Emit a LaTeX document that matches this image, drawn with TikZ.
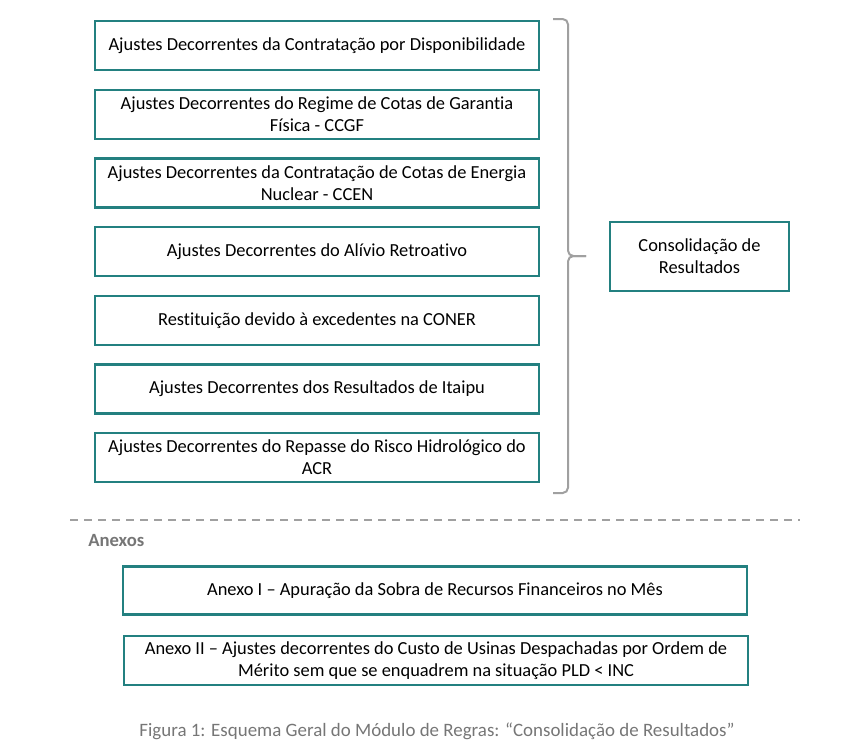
\documentclass[tikz,border=0pt]{standalone}
\usepackage{fontspec}
\setmainfont{Carlito}[Ligatures={NoCommon}]
\definecolor{teal1}{RGB}{35,128,128}
\definecolor{bracegray}{RGB}{160,160,160}
\definecolor{capgray}{RGB}{118,118,118}
\begin{document}
\begin{tikzpicture}[x=0.75pt,y=-0.75pt,
  box/.style={draw=teal1,line width=1.9pt,fill=white,align=center,inner sep=0pt,
    font=\fontsize{13.8pt}{16.5pt}\selectfont,text=black},
  leftbox/.style={box,minimum width=333pt,minimum height=37pt},
  anexbox/.style={box,minimum width=468pt,minimum height=36pt}]
\useasboundingbox (0,0) rectangle (855,754);
\node[leftbox] (b1) at (317,45.5) {Ajustes Decorrentes da Contratação por Disponibilidade};
\node[leftbox] (b2) at (317,114.5) {Ajustes Decorrentes do Regime de Cotas de Garantia\\Física - CCGF};
\node[leftbox] (b3) at (317,183) {Ajustes Decorrentes da Contratação de Cotas de Energia\\Nuclear - CCEN};
\node[leftbox] (b4) at (317,251.5) {Ajustes Decorrentes do Alívio Retroativo};
\node[leftbox] (b5) at (317,320.5) {Restituição devido à excedentes na CONER};
\node[leftbox] (b6) at (317,389) {Ajustes Decorrentes dos Resultados de Itaipu};
\node[leftbox] (b7) at (317,457.5) {Ajustes Decorrentes do Repasse do Risco Hidrológico do\\ACR};
\node[box,minimum width=134pt,minimum height=52pt] (cons) at (699.5,256.5) {Consolidação de\\Resultados};
\coordinate (bt) at (553,19);
\coordinate (bb) at (553,493);
\coordinate (btip) at (586,256);
\draw[bracegray,line width=1.5pt,rounded corners=4pt]
  (bt) -- (568,19) -- (568,256) -- (btip);
\draw[bracegray,line width=1.5pt,rounded corners=4pt]
  (bb) -- (568,493) -- (568,256) -- (btip);
\coordinate (dl) at (70,520);
\coordinate (dr) at (800,520);
\draw[bracegray,line width=1.9pt,dash pattern=on 6pt off 4.5pt] (dl) -- (dr);
\node[anchor=west,text=capgray,font=\bfseries\fontsize{14pt}{16pt}\selectfont,inner sep=0pt] (anx) at (88,541) {Anexos};
\node[anexbox] (a1) at (435,590.5) {Anexo I – Apuração da Sobra de Recursos Financeiros no Mês};
\node[anexbox,minimum height=37pt] (a2) at (436,660.5) {Anexo II – Ajustes decorrentes do Custo de Usinas Despachadas por Ordem de\\Mérito sem que se enquadrem na situação PLD < INC};
\node[text=capgray,font=\fontsize{14.2pt}{16pt}\selectfont,inner sep=0pt] (cap) at (437,731) {Figura 1: Esquema Geral do Módulo de Regras: “Consolidação de Resultados”};
\end{tikzpicture}
\end{document}
